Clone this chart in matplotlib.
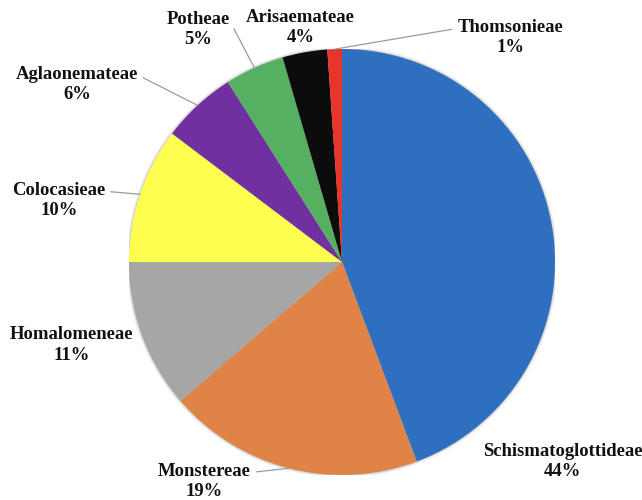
import matplotlib.pyplot as plt
import numpy as np

# tribe shares, clockwise from 12 o'clock (wedge sizes)
tribes = ["Schismatoglottideae", "Monstereae", "Homalomeneae", "Colocasieae",
          "Aglaonemateae", "Potheae", "Arisaemateae", "Thomsonieae"]
shares = [44.3, 19.4, 11.3, 10.3, 5.7, 4.5, 3.4, 1.1]
pct_labels = [44, 19, 11, 10, 6, 5, 4, 1]
colors = ["#2F6FC0", "#DF8446", "#A6A6A6", "#FFFF4F",
          "#7030A0", "#55B062", "#0C0C0C", "#E8352B"]

# label centres (data units, pie radius = 1) and leader line anchor on text
label_pos = {
    "Schismatoglottideae": (1.035, -0.935, None),
    "Monstereae": (-0.645, -1.03, (1.0, 0.74)),
    "Homalomeneae": (-1.27, -0.39, None),
    "Colocasieae": (-1.33, 0.29, (1.0, 0.74)),
    "Aglaonemateae": (-1.245, 0.835, (1.0, 0.74)),
    "Potheae": (-0.675, 1.09, (1.0, 0.74)),
    "Arisaemateae": (-0.195, 1.10, None),
    "Thomsonieae": (0.79, 1.055, (0.0, 0.74)),
}

W, H = 642, 500
cx, cy, r = 342, 262, 213

fig = plt.figure(figsize=(W / 100, H / 100), dpi=100)
ax = fig.add_axes([(cx - r) / W, (H - cy - r) / H, 2 * r / W, 2 * r / H])

# soft halo like the original's shadow
for k, a in [(1.012, 0.10), (1.007, 0.14), (1.003, 0.20)]:
    ax.add_patch(plt.Circle((0, 0), k, color="#808080", alpha=a, lw=0))

wedges, _ = ax.pie(shares, colors=colors, startangle=90, counterclock=False,
                   radius=1, wedgeprops=dict(linewidth=0))
# pie() resets the limits, so pin them afterwards
ax.set_xlim(-1, 1)
ax.set_ylim(-1, 1)
ax.axis("off")

for w, name, val in zip(wedges, tribes, pct_labels):
    tx, ty, rel = label_pos[name]
    ang = np.deg2rad((w.theta1 + w.theta2) / 2)
    px, py = np.cos(ang), np.sin(ang)
    kw = dict(ha="center", va="center", fontsize=13.4, fontweight="bold",
              family="Liberation Serif", color="#111111", linespacing=1.25,
              annotation_clip=False)
    if rel is not None:
        kw["arrowprops"] = dict(arrowstyle="-", color="#9A9A9A", lw=0.9,
                                relpos=rel, shrinkA=2, shrinkB=0)
    ax.annotate(f"{name}\n{val}%", xy=(px, py), xytext=(tx, ty), **kw)

fig.savefig("out.png", dpi=100)
